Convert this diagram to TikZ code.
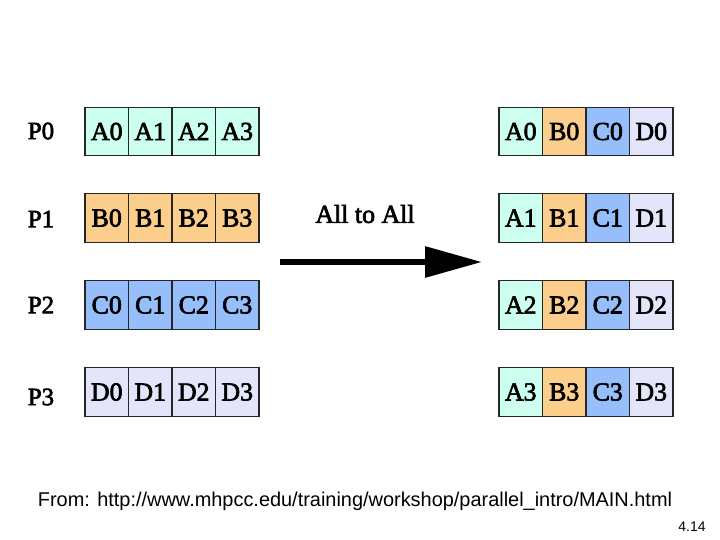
\documentclass[tikz,border=0pt]{standalone}
\usepackage{fontspec}
\setmainfont{Liberation Serif}
\newfontfamily\arialfont{Liberation Sans}
\newfontfamily\heavyfont[FakeBold=2.5]{Liberation Serif}
\usetikzlibrary{arrows.meta}

% --- colors ---
\definecolor{colA}{RGB}{204,255,240}
\definecolor{colB}{RGB}{252,206,140}
\definecolor{colC}{RGB}{150,190,250}
\definecolor{colD}{RGB}{228,228,250}

\begin{document}
\begin{tikzpicture}[x=1bp, y=-1bp,
  cell/.style={draw=black!85, line width=1.2bp, minimum width=43.5bp,
    minimum height=48.5bp, inner sep=0pt,
    font=\heavyfont\fontsize{26}{28}\selectfont},
  plabel/.style={font=\heavyfont\fontsize{25}{27}\selectfont}]

% --- parameters ---
\def\cw{43.5}    % cell width

\fill[white] (0,0) rectangle (720,540);
\useasboundingbox (0,0) rectangle (720,540);

% --- processes before (left) ---
\foreach \r/\L/\y/\py in {0/A/131.5/131,1/B/218/219,2/C/305/305,3/D/392/397} {
    \node[plabel] (p\r) at (41,\py) {P\r};
    \foreach \c in {0,...,3} {
        \node[cell, fill=col\L] (s\L\c) at (106.75+\c*\cw, \y) {\L\c};
    }
}

% --- processes after (right) ---
\foreach \c/\L in {0/A,1/B,2/C,3/D} {
    \foreach \r/\y in {0/131.5,1/218,2/305,3/392} {
        \node[cell, fill=col\L] (r\L\r) at (520.75+\c*\cw, \y) {\L\r};
    }
}

% --- operation ---
\node[font=\heavyfont\fontsize{26}{28}\selectfont] (op) at (365,214) {All to All};
\coordinate (ast) at (280,262);
\coordinate (aen) at (482,262);
\draw[line width=6bp, -{Triangle[length=57bp,width=30bp]}] (ast) -- (aen);

% --- source ---
\node[font=\arialfont\fontsize{20}{22}\selectfont] (src) at (355,501)
    {From: http://www.mhpcc.edu/training/workshop/parallel\_intro/MAIN.html};
\node[font=\arialfont\fontsize{14}{16}\selectfont] (pg) at (692,527) {4.14};

\end{tikzpicture}
\end{document}
